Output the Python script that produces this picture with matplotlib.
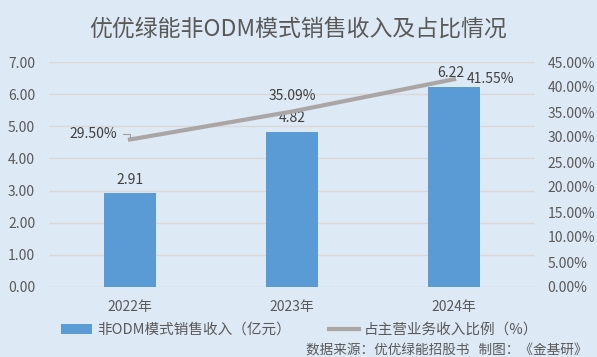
import matplotlib.pyplot as plt
import numpy as np

plt.rcParams['font.family'] = ['Noto Sans CJK SC', 'DejaVu Sans']

# 数据
years = ['2022年', '2023年', '2024年']
revenue = [2.91, 4.82, 6.22]          # 亿元
ratio = [29.50, 35.09, 41.55]         # %
left_ticks = [0, 1, 2, 3, 4, 5, 6, 7]
right_ticks = [0, 5, 10, 15, 20, 25, 30, 35, 40, 45]

bg = '#dde9f5'
txt = '#595959'
bar_color = '#5b9bd5'
line_color = '#aba6a6'

fig = plt.figure(figsize=(5.97, 3.57), dpi=100, facecolor=bg)
ax = fig.add_axes([49 / 597, 1 - 287 / 357, (535 - 49) / 597, (287 - 62) / 357])
ax.set_facecolor(bg)

x = np.arange(len(years))
bars = ax.bar(x, revenue, width=0.315, color=bar_color, zorder=2,
              label='非ODM模式销售收入（亿元）')
ax.set_xlim(-0.5, 2.5)
ax.set_ylim(0, 7)
ax.set_yticks(left_ticks)
ax.set_yticklabels([f'{v:.2f}' for v in left_ticks])
ax.set_xticks(x)
ax.set_xticklabels(years)
ax.grid(axis='y', color='#d9d9d9', linewidth=1, zorder=0)
for s in ax.spines.values():
    s.set_visible(False)
ax.tick_params(length=0, colors=txt, labelsize=10)
ax.tick_params(axis='y', pad=10)
ax.tick_params(axis='x', pad=9)

ax2 = ax.twinx()
ax2.set_ylim(0, 45)
ax2.set_yticks(right_ticks)
ax2.set_yticklabels([f'{v:.2f}%' for v in right_ticks])
ax2.tick_params(length=0, colors=txt, labelsize=10, pad=9)
for s in ax2.spines.values():
    s.set_visible(False)
line, = ax2.plot(x, ratio, color=line_color, linewidth=3, zorder=3,
                 label='占主营业务收入比例（%）')

# 柱标签
offsets = [(0, 5), (0, 5), (-2, 5)]
for xi, v, off in zip(x, revenue, offsets):
    ax.annotate(f'{v:.2f}', (xi, v), xytext=off, textcoords='offset points',
                ha='center', va='bottom', color='#404040', fontsize=10)

# 折线标签
ax2.annotate(f'{ratio[0]:.2f}%', (x[0], ratio[0]), xytext=(-9, 4),
             textcoords='offset points', ha='right', va='center',
             color='#404040', fontsize=10)
ax2.plot([x[0] - 0.045, x[0] - 0.003, x[0] - 0.003], [30.6, 30.6, 29.8],
         color='#a0a0a0', linewidth=0.8, zorder=4)
ax2.annotate(f'{ratio[1]:.2f}%', (x[1], ratio[1]), xytext=(0, 6),
             textcoords='offset points', ha='center', va='bottom',
             color='#404040', fontsize=10)
ax2.annotate(f'{ratio[2]:.2f}%', (x[2], ratio[2]), xytext=(9, 0),
             textcoords='offset points', ha='left', va='center',
             color='#404040', fontsize=10)

fig.text(0.5, 1 - 29 / 357, '优优绿能非ODM模式销售收入及占比情况', ha='center',
         va='center', fontsize=16.5, color=txt)

fig.legend(handles=[bars, line], loc='center left',
           bbox_to_anchor=(48 / 597, 1 - 330 / 357),
           ncol=2, frameon=False, fontsize=10.5, labelcolor=txt,
           columnspacing=2.6, handlelength=2.1, handletextpad=0.35)

fig.text(588 / 597, 1 - 350 / 357, '数据来源：优优绿能招股书   制图：《金基研》',
         ha='right', va='center', fontsize=9.8, color=txt)

plt.savefig('out.png', dpi=100, facecolor=bg)
